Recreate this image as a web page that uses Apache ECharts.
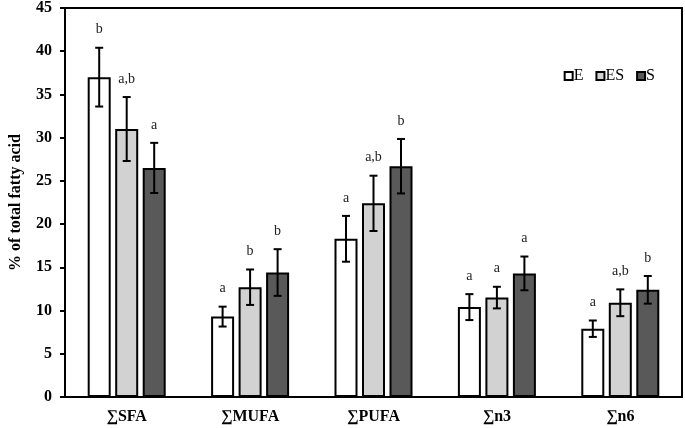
<!DOCTYPE html>
<html><head><meta charset="utf-8">
<script src="https://cdn.jsdelivr.net/npm/echarts@6/dist/echarts.min.js"></script>
<style>html,body{margin:0;padding:0;background:#fff}#c{width:685px;height:428px}</style>
</head><body><div id="c"></div>
<script>
const categories = ['∑SFA', '∑MUFA', '∑PUFA', '∑n3', '∑n6'];
const seriesNames = ['E', 'ES', 'S'];
const valuesE  = [37.0, 9.3, 18.3, 10.4, 7.9];
const valuesES = [31.0, 12.7, 22.4, 11.5, 10.9];
const valuesS  = [26.5, 14.4, 26.7, 14.3, 12.4];
const errE  = [3.4, 1.15, 2.65, 1.5, 0.95];
const errES = [3.7, 2.05, 3.2, 1.25, 1.55];
const errS  = [2.9, 2.7, 3.15, 1.95, 1.6];
const lettersE  = ['b', 'a', 'a', 'a', 'a'];
const lettersES = ['a,b', 'b', 'a,b', 'a', 'a,b'];
const lettersS  = ['a', 'b', 'b', 'a', 'b'];
const yTicks = [0, 5, 10, 15, 20, 25, 30, 35, 40, 45];

const values = [valuesE, valuesES, valuesS];
const errs = [errE, errES, errS];
const letters = [lettersE, lettersES, lettersS];
const colors = ['#ffffff', '#d2d2d2', '#595959'];
const BW = 23, GAP = 4.5;
const serif = '"Liberation Serif", "Times New Roman", serif';

const series = [];
seriesNames.forEach((n, i) => {
  series.push({
    name: n, type: 'bar', barWidth: BW, barGap: (GAP / BW * 100) + '%',
    data: values[i],
    itemStyle: { color: colors[i], borderColor: '#000', borderWidth: 2 },
    z: 2
  });
});
seriesNames.forEach((n, i) => {
  series.push({
    type: 'custom', z: 5, silent: true,
    data: categories.map((c, k) => [k, values[i][k], errs[i][k]]),
    renderItem: function (params, api) {
      const k = api.value(0), v = api.value(1), e = api.value(2);
      const off = (i - 1) * (BW + GAP);
      const top = api.coord([k, v + e]);
      const bot = api.coord([k, v - e]);
      const x = top[0] + off;
      const cap = 4;
      const st = { stroke: '#000', lineWidth: 2 };
      return {
        type: 'group', children: [
          { type: 'line', shape: { x1: x, y1: top[1], x2: x, y2: bot[1] }, style: st },
          { type: 'line', shape: { x1: x - cap, y1: top[1], x2: x + cap, y2: top[1] }, style: st },
          { type: 'line', shape: { x1: x - cap, y1: bot[1], x2: x + cap, y2: bot[1] }, style: st },
          { type: 'text', x: x, y: top[1] - 11, style: { text: letters[i][k], fill: '#222', font: '14px ' + serif, align: 'center', verticalAlign: 'bottom' } }
        ]
      };
    }
  });
});

const chart = echarts.init(document.getElementById('c'));
chart.setOption({
  animation: false,
  backgroundColor: '#fff',
  grid: { left: 58, right: 3, top: 7, bottom: 31, show: true, borderColor: '#000', borderWidth: 2, containLabel: false },
  legend: {
    data: seriesNames, right: 25, top: 63, itemWidth: 8, itemHeight: 8, itemGap: 12,
    icon: 'rect',
    itemStyle: { borderWidth: 2, borderColor: '#000' },
    textStyle: { fontFamily: serif, fontSize: 16, color: '#000', padding: [0, 0, 0, -4] }
  },
  xAxis: {
    type: 'category', data: categories,
    axisLine: { lineStyle: { color: '#000', width: 2 } },
    axisTick: { show: false },
    axisLabel: { fontFamily: serif, fontWeight: 'bold', fontSize: 16, lineHeight: 16, color: '#000', margin: 12 }
  },
  yAxis: {
    type: 'value', min: 0, max: 45, interval: 5,
    name: '% of total fatty acid', nameLocation: 'middle', nameGap: 41,
    nameTextStyle: { fontFamily: serif, fontWeight: 'bold', fontSize: 16, lineHeight: 16, color: '#000' },
    axisLine: { show: true, lineStyle: { color: '#000', width: 2 } },
    axisTick: { show: true, length: 5, lineStyle: { color: '#000', width: 2 } },
    splitLine: { show: false },
    axisLabel: { fontFamily: serif, fontWeight: 'bold', fontSize: 16, lineHeight: 14, color: '#000', margin: 13,
      formatter: v => yTicks.includes(v) ? String(v) : '' }
  },
  series: series
});
</script></body></html>
